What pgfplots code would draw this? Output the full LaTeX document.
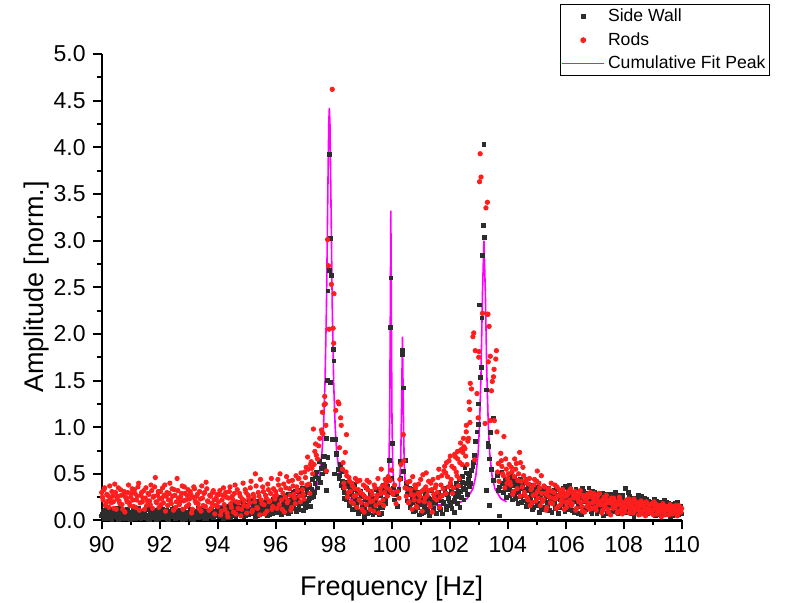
\documentclass[border=0pt]{standalone}
\usepackage{fontspec}
\setmainfont{Liberation Sans}
\usepackage{pgfplots}
\usepackage{pgfplotstable}
\pgfplotsset{compat=1.18}
\definecolor{swc}{RGB}{45,45,45}
\definecolor{rodc}{RGB}{255,30,30}
\definecolor{fitc}{RGB}{255,0,255}

\pgfplotstableread{
x sw rod
90.00 0.05 0.30
90.05 0.10 0.22
90.10 0.02 0.35
90.15 0.08 0.18
90.20 0.12 0.27
90.25 0.04 0.14
90.30 0.07 0.24
90.35 0.01 0.31
90.40 0.09 0.20
90.45 0.06 0.39
90.50 0.13 0.12
90.55 0.03 0.26
90.60 0.08 0.21
90.65 0.05 0.33
90.70 0.11 0.17
90.75 0.02 0.28
90.80 0.07 0.09
90.85 0.04 0.23
90.90 0.10 0.30
90.95 0.06 0.19
91.00 0.01 0.25
91.05 0.09 0.34
91.10 0.05 0.15
91.15 0.12 0.29
91.20 0.03 0.22
91.25 0.08 0.36
91.30 0.06 0.11
91.35 0.02 0.27
91.40 0.10 0.20
91.45 0.07 0.32
91.50 0.04 0.24
91.55 0.14 0.16
91.60 0.05 0.29
91.65 0.01 0.21
91.70 0.09 0.38
91.75 0.06 0.13
91.80 0.03 0.26
91.85 0.11 0.46
91.90 0.07 0.19
91.95 0.02 0.31
92.00 0.08 0.23
92.05 0.05 0.17
92.10 0.12 0.35
92.15 0.03 0.27
92.20 0.09 0.10
92.25 0.06 0.30
92.30 0.01 0.22
92.35 0.10 0.40
92.40 0.04 0.18
92.45 0.07 0.26
92.50 0.13 0.33
92.55 0.02 0.14
92.60 0.08 0.45
92.65 0.05 0.24
92.70 0.11 0.20
92.75 0.03 0.29
92.80 0.06 0.12
92.85 0.09 0.36
92.90 0.02 0.22
92.95 0.07 0.27
93.00 0.04 0.17
93.05 0.12 0.31
93.10 0.06 0.08
93.15 0.01 0.25
93.20 0.09 0.34
93.25 0.05 0.19
93.30 0.10 0.28
93.35 0.03 0.13
93.40 0.08 0.23
93.45 0.06 0.37
93.50 0.14 0.16
93.55 0.02 0.30
93.60 0.07 0.41
93.65 0.05 0.21
93.70 0.11 0.11
93.75 0.04 0.26
93.80 0.08 0.18
93.85 0.03 0.32
93.90 0.10 0.07
93.95 0.06 0.24
94.00 0.09 0.15
94.05 0.04 0.28
94.10 0.13 0.06
94.15 0.07 0.22
94.20 0.02 0.35
94.25 0.11 0.12
94.30 0.06 0.25
94.35 0.15 0.04
94.40 0.08 0.31
94.45 0.03 0.18
94.50 0.12 0.26
94.55 0.18 0.09
94.60 0.05 0.38
94.65 0.10 0.20
94.70 0.14 0.13
94.75 0.07 0.29
94.80 0.20 0.05
94.85 0.09 0.23
94.90 0.04 0.16
94.95 0.12 0.33
95.00 0.16 0.08
95.05 0.06 0.27
95.10 0.11 0.19
95.15 0.22 0.42
95.20 0.08 0.11
95.25 0.14 0.25
95.30 0.03 0.50
95.35 0.17 0.14
95.40 0.10 0.30
95.45 0.06 0.06
95.50 0.13 0.22
95.55 0.19 0.36
95.60 0.09 0.17
95.65 0.15 0.27
95.70 0.05 0.10
95.75 0.21 0.33
95.80 0.11 0.21
95.85 0.16 0.45
95.90 0.07 0.15
95.95 0.13 0.26
96.00 0.18 0.31
96.05 0.09 0.13
96.10 0.24 0.38
96.15 0.14 0.50
96.20 0.06 0.22
96.25 0.20 0.29
96.30 0.12 0.09
96.35 0.27 0.35
96.40 0.16 0.19
96.45 0.08 0.42
96.50 0.22 0.27
96.55 0.13 0.14
96.60 0.30 0.37
96.65 0.18 0.24
96.70 0.10 0.48
96.75 0.25 0.32
96.80 0.15 0.45
96.85 0.32 0.20
96.90 0.20 0.40
96.95 0.11 0.28
97.00 0.28 0.52
97.05 0.18 0.57
97.10 0.35 0.68
97.15 0.24 0.39
97.20 0.15 0.60
97.25 0.33 0.56
97.30 0.26 0.98
97.35 0.40 0.74
97.40 0.52 0.70
97.44 0.35 0.66
97.48 0.45 0.80
97.52 0.63 0.88
97.55 0.41 nan
97.58 0.56 0.97
97.60 0.50 0.94
97.61 nan 1.16
97.63 0.69 0.93
97.65 0.60 nan
97.67 0.58 1.24
97.69 0.69 1.33
97.71 0.53 1.25
97.73 nan 1.02
97.75 0.88 0.53
97.75 0.32 nan
97.78 1.50 nan
97.79 nan 3.01
97.80 2.46 nan
97.80 0.68 nan
97.82 nan 2.73
97.84 2.68 2.05
97.86 3.92 nan
97.89 3.02 nan
97.89 1.48 nan
97.92 2.63 2.53
97.95 0.87 4.62
97.98 1.83 2.06
98.00 nan 1.90
98.01 1.71 2.43
98.03 0.50 nan
98.06 0.87 nan
98.07 nan 1.18
98.09 0.72 nan
98.10 0.71 nan
98.15 0.55 1.27
98.18 0.45 1.25
98.20 0.48 0.78
98.24 0.60 1.10
98.26 0.38 1.02
98.28 0.52 nan
98.30 0.42 0.55
98.35 0.30 0.40
98.40 0.36 0.73
98.44 0.22 0.92
98.45 0.22 0.48
98.50 0.38 0.30
98.55 0.16 0.42
98.60 0.28 0.20
98.65 0.33 0.37
98.70 0.12 0.26
98.75 0.24 0.45
98.80 0.30 0.14
98.85 0.08 0.33
98.90 0.20 0.43
98.95 0.27 0.19
99.00 0.14 0.28
99.05 0.04 0.09
99.10 0.22 0.36
99.15 0.17 0.43
99.20 0.09 0.24
99.25 0.25 0.12
99.30 0.13 0.31
99.35 0.06 0.21
99.40 0.19 0.38
99.45 0.24 0.16
99.50 0.11 0.27
99.55 0.28 0.08
99.60 0.15 0.34
99.64 0.08 0.55
99.70 0.21 0.22
99.75 0.32 0.30
99.80 0.18 0.40
99.85 0.37 0.26
99.88 0.30 0.47
99.93 0.64 0.33
99.95 nan 0.43
99.96 2.07 nan
99.97 2.60 nan
99.99 nan 0.54
100.01 0.45 0.30
100.02 0.83 nan
100.05 0.35 0.28
100.10 0.22 0.38
100.15 0.28 0.18
100.20 0.15 0.31
100.25 0.33 0.24
100.28 0.63 0.44
100.32 0.45 0.60
100.36 1.82 nan
100.37 1.78 nan
100.39 1.42 nan
100.40 0.53 0.92
100.42 nan 0.64
100.46 0.64 0.35
100.50 0.40 0.26
100.55 0.28 0.41
100.60 0.35 0.20
100.65 0.18 0.33
100.70 0.25 0.12
100.75 0.10 0.27
100.80 0.21 0.38
100.85 0.30 0.15
100.90 0.14 0.29
100.95 0.06 0.21
101.00 0.24 0.44
101.05 0.17 0.10
101.10 0.09 0.33
101.15 0.27 0.24
101.19 0.12 0.51
101.25 0.20 0.32
101.30 0.05 0.18
101.35 0.16 0.40
101.40 0.23 0.09
101.45 0.11 0.28
101.50 0.19 0.35
101.55 0.08 0.22
101.60 0.26 0.46
101.65 0.14 0.14
101.70 0.21 0.38
101.75 0.07 0.27
101.80 0.18 0.53
101.86 0.29 0.51
101.89 0.12 0.62
101.95 0.24 0.36
102.02 0.16 0.69
102.05 0.31 0.44
102.10 0.20 0.29
102.15 0.09 0.56
102.20 0.27 0.68
102.25 0.35 0.48
102.27 0.18 0.74
102.30 0.30 0.37
102.35 0.14 0.62
102.37 0.38 0.75
102.40 0.25 0.76
102.45 0.41 0.73
102.49 0.22 0.79
102.55 0.33 0.69
102.57 0.51 0.95
102.60 0.28 0.60
102.65 0.44 0.88
102.67 0.36 1.27
102.69 0.48 1.19
102.70 0.40 1.05
102.71 nan 1.47
102.75 0.54 1.41
102.80 0.58 1.97
102.83 0.62 2.01
102.86 0.70 0.65
102.88 0.85 1.82
102.94 0.95 1.36
102.98 1.03 1.10
103.00 1.25 1.75
103.01 nan 1.81
103.03 2.31 3.63
103.05 nan 3.93
103.07 1.53 nan
103.08 nan 3.68
103.09 1.64 nan
103.11 2.17 nan
103.13 2.84 2.22
103.15 3.16 nan
103.18 4.03 nan
103.21 3.03 nan
103.22 nan 1.04
103.25 nan 3.35
103.26 1.40 nan
103.26 0.32 nan
103.30 nan 3.41
103.30 nan 2.21
103.32 0.83 2.21
103.33 0.79 1.70
103.36 nan 2.08
103.38 0.66 nan
103.38 0.16 nan
103.40 nan 1.76
103.40 nan 1.07
103.41 0.94 nan
103.43 0.55 nan
103.44 nan 1.39
103.47 nan 1.49
103.51 nan 1.54
103.52 1.09 nan
103.52 0.43 nan
103.53 nan 1.62
103.54 nan 1.07
103.59 nan 1.73
103.61 nan 1.82
103.63 nan 0.95
103.65 0.48 0.52
103.70 0.36 0.42
103.72 0.05 nan
103.76 nan 0.72
103.78 nan 0.64
103.80 0.52 0.58
103.85 0.30 0.48
103.87 nan 0.90
103.90 0.44 0.35
103.93 nan 0.66
103.95 0.25 0.55
104.00 0.40 0.45
104.05 0.33 0.60
104.10 0.47 0.38
104.15 0.22 0.52
104.20 0.38 0.31
104.24 0.29 0.66
104.30 0.42 0.61
104.35 0.18 0.43
104.41 0.35 0.73
104.44 0.26 0.62
104.50 0.40 0.36
104.55 0.21 0.48
104.60 0.33 0.27
104.65 0.15 0.40
104.70 0.37 0.22
104.75 0.24 0.45
104.80 0.30 0.33
104.85 0.12 0.19
104.90 0.28 0.38
104.95 0.20 0.28
105.00 0.34 0.42
105.02 0.16 0.53
105.05 0.25 0.24
105.10 0.09 0.35
105.16 0.31 0.48
105.20 0.22 0.20
105.25 0.14 0.37
105.30 0.29 0.29
105.35 0.19 0.14
105.40 0.35 0.32
105.45 0.11 0.25
105.50 0.26 0.40
105.55 0.20 0.18
105.60 0.32 0.30
105.65 0.13 0.23
105.70 0.27 0.36
105.75 0.08 0.15
105.80 0.23 0.28
105.85 0.30 0.21
105.90 0.17 0.33
105.95 0.25 0.12
106.00 0.37 0.26
106.05 0.12 0.19
106.10 0.28 0.31
106.14 0.38 0.22
106.20 0.19 0.16
106.25 0.27 0.29
106.30 0.09 0.24
106.35 0.33 0.11
106.40 0.22 0.27
106.45 0.15 0.20
106.50 0.30 0.32
106.55 0.06 0.15
106.60 0.31 0.25
106.65 0.20 0.09
106.70 0.26 0.22
106.75 0.13 0.28
106.80 0.35 0.18
106.85 0.18 0.30
106.90 0.08 0.13
106.95 0.24 0.24
107.00 0.30 0.20
107.05 0.15 0.11
107.10 0.21 0.26
107.15 0.10 0.29
107.20 0.27 0.17
107.25 0.18 0.08
107.30 0.05 0.23
107.35 0.23 0.15
107.40 0.14 0.27
107.45 0.28 0.12
107.50 0.09 0.21
107.55 0.19 0.06
107.60 0.25 0.18
107.65 0.12 0.24
107.70 0.30 0.14
107.75 0.16 0.20
107.80 0.07 0.10
107.85 0.22 0.25
107.90 0.13 0.16
107.95 0.27 0.07
108.00 0.18 0.19
108.05 0.34 0.13
108.10 0.09 0.22
108.15 0.20 0.17
108.20 0.26 0.08
108.25 0.11 0.20
108.30 0.17 0.14
108.35 0.04 0.23
108.40 0.22 0.11
108.45 0.14 0.18
108.52 0.27 0.06
108.55 0.08 0.15
108.60 0.19 0.21
108.65 0.12 0.10
108.70 0.24 0.16
108.75 0.06 0.05
108.80 0.16 0.19
108.85 0.21 0.12
108.90 0.10 0.08
108.95 0.18 0.17
109.00 0.13 0.11
109.05 0.23 0.20
109.10 0.05 0.14
109.15 0.15 0.07
109.20 0.20 0.16
109.25 0.09 0.12
109.30 0.17 0.04
109.35 0.12 0.18
109.40 0.22 0.10
109.45 0.07 0.15
109.50 0.14 0.13
109.55 0.18 0.06
109.60 0.04 0.17
109.65 0.11 0.11
109.70 0.16 0.14
109.75 0.08 0.08
109.80 0.13 0.16
109.85 0.19 0.05
109.90 0.06 0.16
109.95 0.11 0.10
110.00 0.07 0.13
90.025 0.07 0.25
90.075 0.03 0.33
90.125 0.11 0.16
90.175 0.05 0.28
90.225 0.09 0.21
90.275 0.02 0.37
90.325 0.12 0.19
90.375 0.06 0.26
90.425 0.04 0.13
90.475 0.10 0.30
90.525 0.07 0.23
90.575 0.01 0.35
90.625 0.13 0.18
90.675 0.06 0.27
90.725 0.03 0.12
90.775 0.09 0.31
90.825 0.05 0.25
90.875 0.12 0.20
90.925 0.02 0.38
90.975 0.08 0.16
91.025 0.04 0.29
91.075 0.11 0.22
91.125 0.06 0.33
91.175 0.02 0.14
91.225 0.09 0.26
91.275 0.13 0.40
91.325 0.05 0.19
91.375 0.08 0.30
91.425 0.03 0.24
91.475 0.10 0.12
91.525 0.06 0.35
91.575 0.02 0.21
91.625 0.12 0.28
91.675 0.07 0.17
91.725 0.04 0.32
91.775 0.10 0.25
91.825 0.05 0.36
91.875 0.01 0.20
91.925 0.09 0.27
91.975 0.06 0.14
92.025 0.13 0.31
92.075 0.03 0.24
92.125 0.08 0.19
92.175 0.05 0.38
92.225 0.11 0.26
92.275 0.02 0.16
92.325 0.07 0.29
92.375 0.04 0.22
92.425 0.12 0.34
92.475 0.06 0.11
92.525 0.09 0.27
92.575 0.03 0.20
92.625 0.10 0.32
92.675 0.05 0.17
92.725 0.08 0.25
92.775 0.01 0.37
92.825 0.12 0.21
92.875 0.06 0.29
92.925 0.04 0.15
92.975 0.09 0.33
93.025 0.07 0.23
93.075 0.02 0.28
93.125 0.11 0.12
93.175 0.05 0.36
93.225 0.08 0.21
93.275 0.03 0.26
93.325 0.13 0.18
93.375 0.06 0.31
93.425 0.09 0.10
93.475 0.04 0.24
93.525 0.11 0.29
93.575 0.07 0.15
93.625 0.02 0.34
93.675 0.10 0.20
93.725 0.06 0.27
93.775 0.12 0.13
93.825 0.04 0.30
93.875 0.08 0.22
93.925 0.05 0.16
93.975 0.13 0.28
94.025 0.06 0.20
94.075 0.12 0.32
94.125 0.04 0.10
94.175 0.09 0.27
94.225 0.15 0.17
94.275 0.03 0.30
94.325 0.10 0.08
94.375 0.07 0.24
94.425 0.13 0.36
94.475 0.05 0.14
94.525 0.09 0.22
94.575 0.16 0.29
94.625 0.04 0.07
94.675 0.12 0.33
94.725 0.08 0.19
94.775 0.14 0.26
94.825 0.06 0.12
94.875 0.17 0.40
94.925 0.10 0.21
94.975 0.05 0.30
95.025 0.13 0.15
95.075 0.19 0.24
95.125 0.07 0.35
95.175 0.12 0.09
95.225 0.16 0.28
95.275 0.09 0.20
95.325 0.21 0.37
95.375 0.05 0.13
95.425 0.14 0.26
95.475 0.18 0.44
95.525 0.08 0.18
95.575 0.12 0.31
95.625 0.20 0.07
95.675 0.10 0.24
95.725 0.15 0.39
95.775 0.06 0.20
95.825 0.19 0.29
95.875 0.12 0.12
95.925 0.23 0.34
95.975 0.09 0.23
96.025 0.14 0.27
96.075 0.21 0.44
96.125 0.10 0.17
96.175 0.25 0.33
96.225 0.16 0.12
96.275 0.09 0.39
96.325 0.22 0.25
96.375 0.13 0.47
96.425 0.28 0.21
96.475 0.17 0.34
96.525 0.10 0.11
96.575 0.24 0.43
96.625 0.15 0.28
96.675 0.31 0.18
96.725 0.20 0.36
96.775 0.12 0.45
96.825 0.27 0.26
96.875 0.18 0.51
96.925 0.34 0.33
96.975 0.22 0.23
97.025 0.14 0.46
97.075 0.30 0.38
97.125 0.21 0.55
97.175 0.38 0.29
97.225 0.25 0.63
97.275 0.44 0.50
97.325 0.30 0.60
97.375 0.47 0.82
98.325 0.35 0.62
98.375 0.24 0.35
98.425 0.41 0.52
98.475 0.29 0.25
98.525 0.18 0.46
98.575 0.34 0.31
98.625 0.12 0.40
98.675 0.26 0.18
98.725 0.39 0.34
98.775 0.17 0.27
98.825 0.23 0.42
98.875 0.10 0.22
98.925 0.31 0.30
98.975 0.19 0.12
99.025 0.26 0.38
99.075 0.12 0.25
99.125 0.35 0.17
99.175 0.08 0.33
99.225 0.20 0.41
99.275 0.29 0.20
99.325 0.15 0.28
99.375 0.24 0.10
99.425 0.09 0.35
99.475 0.33 0.24
99.525 0.18 0.45
99.575 0.06 0.19
99.625 0.27 0.29
99.675 0.14 0.37
99.725 0.38 0.16
99.775 0.23 0.44
99.825 0.44 0.35
100.525 0.21 0.34
100.575 0.32 0.19
100.625 0.14 0.42
100.675 0.28 0.28
100.725 0.19 0.47
100.775 0.33 0.22
100.825 0.11 0.35
100.875 0.25 0.14
100.925 0.18 0.39
100.975 0.30 0.26
101.025 0.08 0.31
101.075 0.22 0.49
101.125 0.15 0.20
101.175 0.29 0.36
101.225 0.10 0.27
101.275 0.24 0.42
101.325 0.17 0.15
101.375 0.32 0.33
101.425 0.13 0.44
101.475 0.26 0.24
101.525 0.07 0.38
101.575 0.21 0.30
101.625 0.30 0.55
101.675 0.12 0.25
101.725 0.27 0.48
101.775 0.19 0.34
101.825 0.34 0.58
101.875 0.15 0.29
101.925 0.28 0.47
101.975 0.21 0.64
102.025 0.38 0.40
102.075 0.13 0.58
102.125 0.29 0.35
102.175 0.22 0.71
102.225 0.40 0.52
102.275 0.26 0.66
102.325 0.44 0.45
102.375 0.31 0.83
102.425 0.47 0.60
102.475 0.35 0.88
102.525 0.57 0.77
102.575 0.40 1.02
102.625 0.50 0.85
103.675 0.32 0.61
103.825 0.40 0.50
103.975 0.33 0.40
104.025 0.35 0.50
104.075 0.27 0.41
104.125 0.43 0.57
104.175 0.31 0.28
104.225 0.46 0.47
104.275 0.24 0.55
104.325 0.38 0.34
104.375 0.30 0.50
104.425 0.44 0.26
104.475 0.19 0.42
104.525 0.34 0.57
104.575 0.27 0.30
104.625 0.41 0.44
104.675 0.18 0.24
104.725 0.32 0.39
104.775 0.25 0.16
104.825 0.38 0.35
104.875 0.14 0.27
104.925 0.30 0.44
104.975 0.23 0.21
105.025 0.36 0.31
105.075 0.18 0.40
105.125 0.27 0.16
105.175 0.12 0.29
105.225 0.33 0.23
105.275 0.21 0.36
105.325 0.26 0.11
105.375 0.15 0.27
105.425 0.30 0.34
105.475 0.22 0.19
105.525 0.09 0.31
105.575 0.28 0.24
105.625 0.18 0.38
105.675 0.33 0.13
105.725 0.24 0.26
105.775 0.14 0.33
105.825 0.29 0.17
105.875 0.20 0.25
105.925 0.35 0.30
105.975 0.10 0.20
106.025 0.26 0.14
106.075 0.32 0.28
106.125 0.16 0.21
106.175 0.24 0.34
106.225 0.11 0.18
106.275 0.30 0.25
106.325 0.20 0.31
106.375 0.27 0.13
106.425 0.08 0.23
106.475 0.25 0.28
106.525 0.17 0.19
106.575 0.34 0.10
106.625 0.22 0.27
106.675 0.12 0.21
106.725 0.29 0.15
106.775 0.19 0.25
106.825 0.24 0.12
106.875 0.10 0.26
106.925 0.31 0.19
106.975 0.16 0.29
107.025 0.23 0.14
107.075 0.07 0.22
107.125 0.26 0.17
107.175 0.19 0.29
107.225 0.12 0.21
107.275 0.29 0.11
107.325 0.17 0.25
107.375 0.21 0.18
107.425 0.08 0.22
107.475 0.24 0.09
107.525 0.15 0.19
107.575 0.28 0.24
107.625 0.18 0.13
107.675 0.10 0.21
107.725 0.22 0.16
107.775 0.27 0.08
107.825 0.14 0.18
107.875 0.20 0.22
107.925 0.09 0.12
107.975 0.24 0.17
108.025 0.16 0.09
108.075 0.21 0.20
108.125 0.13 0.15
108.175 0.30 0.23
108.225 0.18 0.12
108.275 0.07 0.18
108.325 0.24 0.08
108.375 0.15 0.21
108.425 0.19 0.14
108.475 0.10 0.19
108.525 0.22 0.11
108.575 0.16 0.16
108.625 0.26 0.07
108.675 0.11 0.18
108.725 0.18 0.13
108.775 0.23 0.20
108.825 0.08 0.09
108.875 0.15 0.15
108.925 0.20 0.11
108.975 0.12 0.18
109.025 0.17 0.06
109.075 0.09 0.14
109.125 0.21 0.17
109.175 0.13 0.10
109.225 0.16 0.15
109.275 0.06 0.09
109.325 0.19 0.13
109.375 0.11 0.16
109.425 0.15 0.06
109.475 0.20 0.12
109.525 0.09 0.15
109.575 0.13 0.09
109.625 0.17 0.13
109.675 0.05 0.07
109.725 0.12 0.15
109.775 0.18 0.10
109.825 0.08 0.12
109.875 0.14 0.07
109.925 0.10 0.14
109.975 0.15 0.09
}\data

\pgfplotstableread{
x y
94.0 0.155
95.0 0.156
96.0 0.163
96.5 0.175
97.0 0.21
97.2 0.25
97.4 0.355
97.5 0.48
97.6 0.745
97.65 1.01
97.7 1.47
97.75 2.29
97.8 3.57
97.83 4.26
97.85 4.42
97.87 4.26
97.9 3.57
97.95 2.29
98.0 1.47
98.05 1.01
98.1 0.745
98.2 0.48
98.3 0.355
98.5 0.25
98.7 0.21
99.0 0.185
99.5 0.178
99.7 0.194
99.85 0.30
99.9 0.526
99.93 1.055
99.95 2.09
99.97 3.32
99.99 2.09
100.01 1.07
100.04 0.536
100.1 0.30
100.2 0.27
100.27 0.378
100.31 0.63
100.34 1.21
100.37 1.97
100.40 1.21
100.43 0.63
100.47 0.37
100.55 0.23
100.7 0.18
101.0 0.17
101.5 0.165
102.0 0.175
102.4 0.20
102.6 0.235
102.8 0.34
102.9 0.475
102.98 0.72
103.03 1.03
103.08 1.575
103.13 2.43
103.18 3.0
103.23 2.43
103.28 1.575
103.33 1.03
103.38 0.72
103.46 0.475
103.56 0.34
103.76 0.235
103.96 0.20
}\fit

\begin{document}
\begin{tikzpicture}
\path[use as bounding box] (-50.85pt,-41.25pt) rectangle (342.15pt,260.25pt);
\begin{axis}[
  at={(0,0)}, anchor=south west,
  scale only axis, width=290pt, height=233.3pt,
  xmin=90, xmax=110, ymin=0, ymax=5,
  axis x line*=bottom, axis y line*=left,
  xtick={90,92,...,110}, minor x tick num=1,
  ytick={0,0.5,1,1.5,2,2.5,3,3.5,4,4.5,5}, minor y tick num=1,
  tick align=outside,
  major tick length=4.5pt, minor tick length=2.5pt,
  every tick/.style={black, line width=1pt},
  axis line style={line width=1.2pt},
  tick label style={font=\fontsize{11.5}{13}\selectfont, text=black},
  /pgf/number format/assume math mode=true,
  yticklabel style={/pgf/number format/.cd, fixed, fixed zerofill, precision=1},
  xticklabel style={/pgf/number format/.cd, fixed, precision=0},
  xlabel={Frequency [Hz]}, ylabel={Amplitude [norm.]},
  label style={font=\fontsize{13.5}{16}\selectfont},
  xlabel style={at={(axis description cs:0.5,-0.161)}, anchor=base},
  ylabel style={at={(axis description cs:-0.1124,0.5)}, anchor=center},
  legend style={at={(0.7897,1.1073)}, anchor=north west, draw=black, line width=0.7pt,
    font=\fontsize{8.8}{10}\selectfont, inner xsep=0.5pt, inner ysep=0.3pt, fill=white,
    nodes={inner ysep=1.9pt, inner xsep=1.5pt}},
  legend cell align=left,
  legend image code/.code={\draw[mark repeat=2,mark phase=2,#1] plot coordinates {(0pt,0pt) (10.5pt,0pt) (21pt,0pt)};},
]
\addplot[only marks, mark=square*, mark size=0.95pt, color=swc, mark options={draw=none, fill=swc}]
  table[x=x, y=sw] {\data};
\addlegendentry{Side Wall}
\addplot[only marks, mark=*, mark size=1.1pt, color=rodc, mark options={draw=none, fill=rodc}]
  table[x=x, y=rod] {\data};
\addlegendentry{Rods}
\addplot[no marks, color=fitc, line width=0.8pt]
  table[x=x, y=y] {\fit};
\addlegendentry{Cumulative Fit Peak}
\end{axis}
\end{tikzpicture}
\end{document}
